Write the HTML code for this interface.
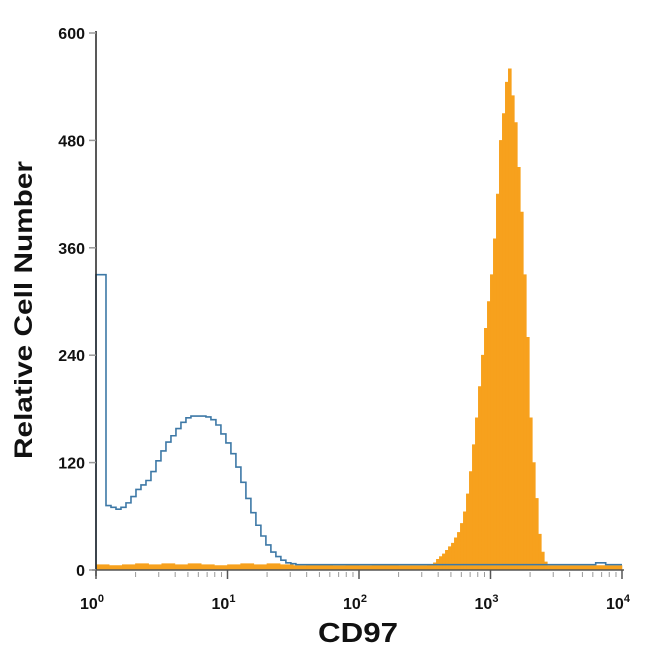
<!DOCTYPE html>
<html><head><meta charset="utf-8"><style>
body{margin:0;background:#fff}
svg text{font-family:"Liberation Sans",Arial,sans-serif;font-weight:bold;fill:#111}
</style></head><body>
<svg id="chart" width="650" height="650" viewBox="0 0 650 650" xmlns="http://www.w3.org/2000/svg">
<g id="plot"></g>
<g id="axes"></g>
<text transform="translate(32,310) rotate(-90)" text-anchor="middle" font-size="25" textLength="298" lengthAdjust="spacingAndGlyphs">Relative Cell Number</text>
<text x="358" y="642" text-anchor="middle" font-size="28" textLength="80" lengthAdjust="spacingAndGlyphs">CD97</text>
</svg>
<script>
const yTicks=[0,120,240,360,480,600];
const xDecades=[0,1,2,3,4];
// blue (isotype) histogram: bins of 0.038 decades starting at 10^0
const blueStep=0.038;
const blueValues=[330,330,72,70,68,70,75,82,90,95,100,110,122,133,143,150,158,165,170,172,172,172,171,168,162,152,142,130,115,98,80,64,50,38,28,20,15,11,8,7,6,6,6,6,6,6,6,6,6,6,6,6,6,6,6,6,6,6,6,6,6,6,6,6,6,6,6,6,6,6,6,6,6,6,6,6,6,6,6,6,6,6,6,6,6,6,6,6,6,6,6,6,6,6,6,6,6,6,6,6,8,8,6,6,6,6,7,7,6,6,5,5,5,5,5];
// orange baseline: coarse bins of 0.1 decades from 10^0
const baseStep=0.1;
const orangeBase=[6,5,6,7,6,7,6,7,6,5,6,7,6,7,6,5,6,6,5,6,5,6,6,5,5,5,6,5,5,5,5,5,5,5,5,5,5,5,5,5];
// orange peak: bins of 0.0228 decades starting at 10^2.52
const peakStart=2.52, peakStep=0.0228;
const orangePeak=[6,6,8,12,15,18,22,26,30,36,42,52,65,85,110,140,170,205,240,270,300,330,370,420,480,510,545,560,530,500,450,400,330,260,170,120,80,40,20,9,5];
const X0=96,X1=622,Y0=570,Y1=33;
const xs=d=>X0+(X1-X0)*d/4;
const ys=v=>Y0-(Y0-Y1)*v/600;
const NS="http://www.w3.org/2000/svg";
const plot=document.getElementById('plot'),axes=document.getElementById('axes');
function mk(t,a,p){const e=document.createElementNS(NS,t);for(const k in a)e.setAttribute(k,a[k]);(p||plot).appendChild(e);return e;}
let od='';
orangeBase.forEach((v,i)=>{const a=i*baseStep,b=(i+1)*baseStep;od+='M'+xs(a)+','+ys(0)+'H'+xs(b)+'V'+ys(v)+'H'+xs(a)+'Z';});
orangePeak.forEach((v,i)=>{const a=peakStart+i*peakStep,b=a+peakStep;od+='M'+xs(a)+','+ys(0)+'H'+xs(b)+'V'+ys(v)+'H'+xs(a)+'Z';});
const op=mk('path',{d:od,fill:'#f7a11d',stroke:'#f7a11d','stroke-width':'0.6'});


let bd='M'+xs(0)+','+ys(0);
blueValues.forEach((v,i)=>{const a=i*blueStep,b=Math.min((i+1)*blueStep,4);if(a>=4)return;bd+='L'+xs(a)+','+ys(v)+'L'+xs(b)+','+ys(v);});
const bp=mk('path',{d:bd,fill:'none',stroke:'#3d78a6','stroke-width':'1.6'});


mk('line',{x1:X0,y1:Y1-2,x2:X0,y2:Y0+6,stroke:'#222','stroke-width':1.5},axes);
mk('line',{x1:X0-4,y1:Y0,x2:X1+2,y2:Y0,stroke:'#555','stroke-width':1.5},axes);
yTicks.forEach(v=>{
 const t=mk('line',{x1:X0-7,y1:ys(v),x2:X0,y2:ys(v),stroke:'#999','stroke-width':1.5},axes);
 
 
 const l=mk('text',{x:X0-11,y:ys(v)+6,'text-anchor':'end','font-size':16},axes);l.textContent=v;
 
 
});
xDecades.forEach(k=>{
 mk('line',{x1:xs(k),y1:Y0,x2:xs(k),y2:Y0+9,stroke:'#555','stroke-width':1.5},axes);
 if(k<4)for(let m=2;m<10;m++){mk('line',{x1:xs(k+Math.log10(m)),y1:Y0+2,x2:xs(k+Math.log10(m)),y2:Y0+7,stroke:'#999','stroke-width':1},axes);}
 const l=mk('text',{x:xs(k)-4,y:Y0+39,'text-anchor':'middle','font-size':16},axes);
 
 
 l.textContent='10';
 const s=document.createElementNS(NS,'tspan');s.setAttribute('font-size','11');s.setAttribute('dy','-7');s.textContent=k;l.appendChild(s);
});
</script>
</body></html>
